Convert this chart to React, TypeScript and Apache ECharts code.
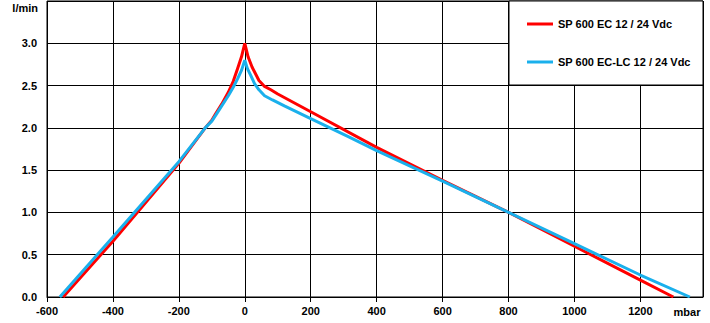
import React, { useEffect, useRef } from "react";
import * as echarts from "echarts";

const seriesNames = ["SP 600 EC 12 / 24 Vdc", "SP 600 EC-LC 12 / 24 Vdc"];

const redX = [-551, -400, -200, -120, -100, -88, -70, -50, -35, -22, -10, 0, 10, 22, 43, 60, 79, 100, 200, 400, 600, 800, 1000, 1200, 1300];
const redY = [0, 0.66, 1.58, 2.0, 2.09, 2.17, 2.28, 2.42, 2.55, 2.7, 2.84, 3.0, 2.84, 2.72, 2.56, 2.49, 2.45, 2.4, 2.19, 1.77, 1.38, 1.0, 0.6, 0.2, 0];

const blueX = [-561, -400, -200, -120, -100, -88, -70, -50, -35, -22, -10, 0, 8, 18, 30, 43, 60, 84, 120, 200, 317, 400, 600, 800, 1000, 1200, 1350];
const blueY = [0, 0.71, 1.6, 2.0, 2.08, 2.15, 2.26, 2.38, 2.48, 2.58, 2.68, 2.8, 2.7, 2.62, 2.52, 2.45, 2.38, 2.33, 2.26, 2.11, 1.89, 1.73, 1.37, 1.0, 0.63, 0.26, 0];

const xMin = -600;
const xMax = 1390;
const xInterval = 200;
const yMin = 0;
const yMax = 3.5;
const yInterval = 0.5;
const xUnit = "mbar";
const yUnit = "l/min";

const colors = ["#ff0000", "#1ab0ec"];

const font = "Liberation Sans, Arial, sans-serif";

export default function App() {
  const ref = useRef<HTMLDivElement>(null);
  useEffect(() => {
    if (!ref.current) return;
    const chart = echarts.init(ref.current, null, { renderer: "svg" });
    const pairs = (xs: number[], ys: number[]) => xs.map((x, i) => [x, ys[i]]);
    chart.setOption({
      animation: false,
      backgroundColor: "#fff",
      grid: {
        left: 47,
        right: 7,
        top: 1,
        bottom: 26,
        show: true,
        borderColor: "#000",
        borderWidth: 1,
      },
      xAxis: {
        type: "value",
        min: xMin,
        max: xMax,
        interval: xInterval,
        axisLine: { show: true, lineStyle: { color: "#000", width: 1 } },
        axisTick: { show: true, length: 5, lineStyle: { color: "#000" } },
        splitLine: { show: true, lineStyle: { color: "#000", width: 1 } },
        axisLabel: {
          color: "#000",
          fontFamily: font,
          fontSize: 11,
          fontWeight: "bold",
          margin: 8,
          showMaxLabel: false,
          formatter: (v: number) => (v % 200 === 0 ? String(v) : ""),
        },
      },
      yAxis: {
        type: "value",
        min: yMin,
        max: yMax,
        interval: yInterval,
        axisLine: { show: true, lineStyle: { color: "#000", width: 1 } },
        axisTick: { show: true, length: 4, lineStyle: { color: "#000" } },
        splitLine: { show: true, lineStyle: { color: "#000", width: 1 } },
        axisLabel: {
          color: "#000",
          fontFamily: font,
          fontSize: 11,
          fontWeight: "bold",
          margin: 10,
          formatter: (v: number) => (v >= yMax ? "" : v.toFixed(1)),
        },
      },
      legend: {
        orient: "vertical",
        left: 522,
        top: 12,
        z: 60,
        icon: "rect",
        itemWidth: 26,
        itemHeight: 3,
        itemGap: 24,
        textStyle: {
          color: "#000",
          fontFamily: font,
          fontSize: 11,
          fontWeight: "bold",
          lineHeight: 14,
        },
        data: seriesNames,
      },
      graphic: [
        {
          type: "rect",
          z: 50,
          shape: { x: 509, y: 1, width: 194, height: 84 },
          style: { fill: "#fff", stroke: "#000", lineWidth: 1 },
        },
        {
          type: "text",
          z: 50,
          x: 38,
          y: 8,
          style: {
            text: yUnit,
            fill: "#000",
            font: `bold 11px ${font}`,
            textAlign: "right",
            textVerticalAlign: "middle",
          },
        },
        {
          type: "text",
          z: 50,
          x: 687,
          y: 312,
          style: {
            text: xUnit,
            fill: "#000",
            font: `bold 11px ${font}`,
            textAlign: "center",
            textVerticalAlign: "middle",
          },
        },
      ],
      series: [
        {
          name: seriesNames[0],
          type: "line",
          data: pairs(redX, redY),
          showSymbol: false,
          smooth: false,
          lineStyle: { color: colors[0], width: 3 },
          itemStyle: { color: colors[0] },
          z: 3,
        },
        {
          name: seriesNames[1],
          type: "line",
          data: pairs(blueX, blueY),
          showSymbol: false,
          smooth: false,
          lineStyle: { color: colors[1], width: 3 },
          itemStyle: { color: colors[1] },
          z: 4,
        },
      ],
    });
    return () => chart.dispose();
  }, []);
  return (
    <div
      ref={ref}
      style={{ position: "fixed", left: 0, top: 0, width: 710, height: 323 }}
    />
  );
}
